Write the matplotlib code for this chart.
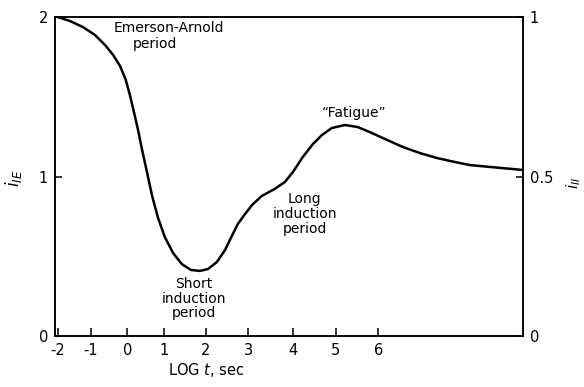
import numpy as np
import matplotlib
matplotlib.use("Agg")
import matplotlib.pyplot as plt

# Induction curve: log time (sec) vs relative current
log_t = [-2.0, -1.63, -1.24, -0.89, -0.61, -0.39, -0.20, -0.04, 0.07, 0.18,
         0.29, 0.40, 0.53, 0.67, 0.83, 1.01, 1.21, 1.42, 1.64, 1.86, 2.05,
         2.26, 2.45, 2.61, 2.75, 2.92, 3.08, 3.30, 3.59, 3.82, 4.00, 4.23,
         4.47, 4.68, 4.91, 5.22, 5.52, 5.80, 6.16, 6.58, 6.98, 7.38, 7.80,
         8.15, 8.62, 9.40]
i_ie = [2.0, 1.975, 1.937, 1.887, 1.824, 1.762, 1.693, 1.605, 1.511, 1.404,
        1.292, 1.166, 1.028, 0.878, 0.740, 0.621, 0.520, 0.451, 0.414, 0.408,
        0.420, 0.464, 0.539, 0.627, 0.702, 0.765, 0.821, 0.878, 0.922, 0.966,
        1.028, 1.122, 1.204, 1.260, 1.304, 1.323, 1.310, 1.279, 1.235, 1.185,
        1.147, 1.116, 1.091, 1.072, 1.060, 1.041]

x_ticks = [-2, -1, 0, 1, 2, 3, 4, 5, 6]
left_ticks = [0, 1, 2]
right_ticks = [0, 0.5, 1]
right_labels = ["0", "0.5", "1"]

# the hand-drawn time axis is slightly uneven; map it piecewise
knot_data = np.array([-3, -2, -1, 0, 1, 2, 3, 4, 5, 6, 12], dtype=float)
knot_scaled = np.array([24.2, 57.6, 91.0, 127.3, 164.4, 205.9, 248.5, 293.0,
                        335.7, 378.3, 633.9])


def forward(x):
    return np.interp(x, knot_data, knot_scaled)


def inverse(s):
    return np.interp(s, knot_scaled, knot_data)


plt.rcParams["font.family"] = "DejaVu Sans"

fig = plt.figure(figsize=(5.84, 3.87), dpi=100)
ax = fig.add_axes([0.0942, 0.1318, 0.8013, 0.8242])
ax.set_xscale("function", functions=(forward, inverse))

ax.plot(log_t, i_ie, color="black", lw=1.8, solid_joinstyle="round",
        solid_capstyle="round")

ax.set_xlim(-2.078, 9.40)
ax.set_ylim(0, 2)
ax.set_xticks(x_ticks)
ax.set_xticklabels([str(v) for v in x_ticks])
ax.set_yticks(left_ticks)
ax.set_yticklabels([str(v) for v in left_ticks])
ax.minorticks_off()
ax.tick_params(axis="both", direction="in", length=6, width=1.1,
               labelsize=10.5, pad=5)
ax.tick_params(axis="y", length=5)
for sp in ax.spines.values():
    sp.set_linewidth(1.1)

ax2 = ax.twinx()
ax2.set_ylim(0, 1)
ax2.set_yticks(right_ticks)
ax2.set_yticklabels(right_labels)
ax2.tick_params(axis="y", direction="in", length=5, width=1.1,
                labelsize=10.5, pad=5)
for sp in ax2.spines.values():
    sp.set_linewidth(1.1)

# region labels
ax.text(1.11, 1.93, "Emerson-Arnold", fontsize=10, ha="center", va="center")
ax.text(0.75, 1.83, "period", fontsize=10, ha="center", va="center")
ax.text(1.71, 0.37, "Short\ninduction\nperiod", fontsize=10, ha="center",
        va="top", linespacing=1.05)
ax.text(4.28, 0.90, "Long\ninduction\nperiod", fontsize=10, ha="center",
        va="top", linespacing=1.05)
ax.text(5.43, 1.40, "\u201cFatigue\u201d", fontsize=10, ha="center", va="center")

fig.text(206 / 584, 1 - 370 / 387, r"LOG $t$, sec", fontsize=10.5,
         ha="center", va="center")
fig.text(14 / 584, 1 - 178 / 387, r"$i_{IE}$", fontsize=12, rotation=90,
         ha="center", va="center")
fig.text(574 / 584, 1 - 183 / 387, r"$i_{II}$", fontsize=11, rotation=90,
         ha="center", va="center")

fig.savefig("out.png", dpi=100, facecolor="white")
